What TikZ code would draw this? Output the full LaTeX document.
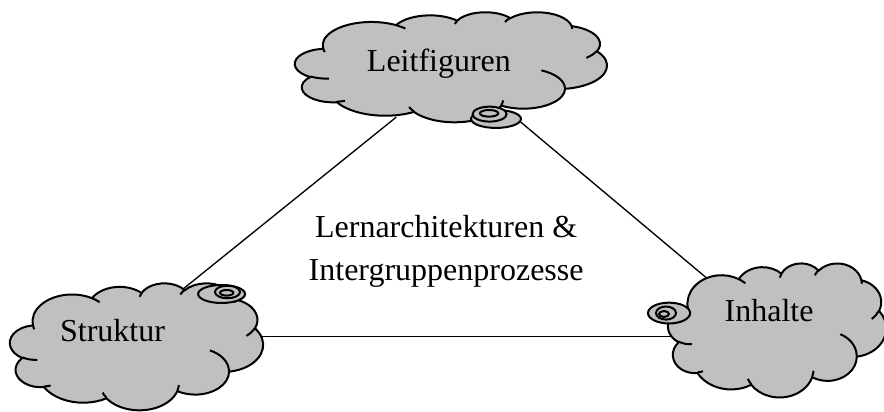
\documentclass[tikz,border=0pt]{standalone}
\usepackage{fontspec}
\setmainfont{Liberation Serif}
\usetikzlibrary{shapes.geometric}

\definecolor{wolkengrau}{RGB}{192,192,192}

\pgfdeclarelayer{background}
\pgfsetlayers{background,main}

% cloud outline of the callout (432 x 432 units), angles as seen on the ellipse
\newcommand\wolkenpfad{}
\newcommand\faltenpfad{}
\newcommand\wolkenbogen[4]{%
  \pgfmathsetmacro\wbs{atan2((#1)*sin(#3),(#2)*cos(#3))}%
  \pgfmathsetmacro\wbd{Mod(atan2((#1)*sin((#3)+(#4)),(#2)*cos((#3)+(#4)))-\wbs,360)}%
  \xdef\wolkenpfad{\wolkenpfad arc[x radius=#1,y radius=#2,start angle=\wbs,delta angle=\wbd]}}
\newcommand\faltenbogen[6]{%
  \pgfmathsetmacro\wbs{atan2((#3)*sin(#5),(#4)*cos(#5))}%
  \pgfmathsetmacro\wbd{Mod(atan2((#3)*sin((#5)+(#6)),(#4)*cos((#5)+(#6)))-\wbs,360)}%
  \xdef\faltenpfad{\faltenpfad (#1,#2) arc[x radius=#3,y radius=#4,start angle=\wbs,delta angle=\wbd]}}

\wolkenbogen{67.53}{91.90}{-190.4875}{123.7805}
\wolkenbogen{53.33}{72.67}{-144.1024}{89.9452}
\wolkenbogen{43.65}{59.45}{-145.8079}{99.7230}
\wolkenbogen{48.57}{65.95}{-130.9861}{117.2417}
\wolkenbogen{53.33}{72.73}{-78.7089}{109.0269}
\wolkenbogen{67.75}{92.20}{-46.2673}{130.2690}
\wolkenbogen{57.85}{78.67}{0.6250}{114.0333}
\wolkenbogen{67.52}{92.15}{22.4516}{115.1726}
\wolkenbogen{77.20}{105.43}{66.2426}{75.7110}
\wolkenbogen{43.60}{59.18}{-274.9421}{146.7356}
\wolkenbogen{43.45}{59.45}{-246.8285}{152.5189}

\faltenbogen{46.93}{261.77}{43.45}{59.45}{86.7420}{26.4295}
\faltenbogen{69.28}{348.99}{43.60}{59.18}{73.6105}{11.4475}
\faltenbogen{164.78}{390.90}{67.52}{92.15}{137.6242}{14.0811}
\faltenbogen{288.27}{347.51}{67.52}{92.15}{6.4533}{15.9984}
\faltenbogen{341.29}{229.54}{57.85}{78.67}{-70.2924}{70.9174}
\faltenbogen{417.98}{153.54}{53.33}{72.73}{30.3180}{27.7515}
\faltenbogen{383.24}{54.26}{48.57}{65.95}{-13.7443}{14.8589}
\faltenbogen{290.78}{39.52}{48.57}{65.95}{-149.1815}{18.1954}
\faltenbogen{221.41}{47.20}{43.65}{59.45}{-163.4943}{17.6864}
\faltenbogen{140.00}{51.92}{67.53}{91.90}{-66.7070}{12.3194}
\faltenbogen{41.27}{157.89}{67.53}{91.90}{157.6544}{11.8582}

\tikzset{
  wolkenfeld/.style={rectangle, inner sep=0pt, outer sep=0pt},
  wolkenrand/.style={draw, fill=wolkengrau, line width=0.75pt, line join=round},
  falte/.style={draw, line width=0.75pt},
  blase/.style={ellipse, draw, fill=wolkengrau, line width=0.75pt, inner sep=0pt},
  verbindung/.style={line width=0.5pt}
}

\begin{document}
\begin{tikzpicture}
\fontsize{12}{16.25}\selectfont
\useasboundingbox (0,0) rectangle (331.5pt,154.5pt);

  % cloud areas
  \node[wolkenfeld, minimum width=117pt, minimum height=41.25pt] (leit)  at (169.1pt,129.4pt) {};
  \node[wolkenfeld, minimum width=94.9pt, minimum height=47.6pt] (struk) at (51.2pt,24.6pt) {};
  \node[wolkenfeld, minimum width=81.75pt, minimum height=50.25pt] (inh) at (291.4pt,30.75pt) {};

  % clouds
  \begin{scope}[shift={(leit.north west)}, x=117pt/432, y=-41.25pt/432]
    \path[wolkenrand] (39,143.7) \wolkenpfad -- cycle;
    \path[falte] \faltenpfad;
  \end{scope}
  \begin{scope}[shift={(struk.north west)}, x=94.9pt/432, y=-47.6pt/432]
    \path[wolkenrand] (39,143.7) \wolkenpfad -- cycle;
    \path[falte] \faltenpfad;
  \end{scope}
  \begin{scope}[shift={(inh.north west)}, x=81.75pt/432, y=-50.25pt/432]
    \path[wolkenrand] (39,143.7) \wolkenpfad -- cycle;
    \path[falte] \faltenpfad;
  \end{scope}

  % bubbles of the callouts
  \node[blase, minimum width=18.75pt, minimum height=6.75pt] (leitb1) at (186pt,109.9pt) {};
  \node[blase, minimum width=12.75pt, minimum height=5.6pt]  (leitb2) at (183.6pt,111.7pt) {};
  \node[blase, minimum width=6.9pt,   minimum height=2.5pt]  (leitb3) at (183.4pt,112pt) {};

  \node[blase, minimum width=17.6pt, minimum height=6.75pt] (strukb1) at (83.1pt,44.25pt) {};
  \node[blase, minimum width=9.4pt,  minimum height=4.7pt]  (strukb2) at (85.3pt,45pt) {};
  \node[blase, minimum width=5pt,    minimum height=2.1pt]  (strukb3) at (85pt,44.7pt) {};

  \node[blase, minimum width=15.8pt, minimum height=7.8pt] (inhb1) at (250.9pt,37.1pt) {};
  \node[blase, minimum width=7.5pt,  minimum height=4.9pt] (inhb2) at (249.75pt,37.1pt) {};
  \node[blase, minimum width=3.75pt, minimum height=2.2pt] (inhb3) at (249pt,36.75pt) {};

  % labels
  \node[anchor=base] (leittext)  at (164.6pt,127.5pt) {Leitfiguren};
  \node[anchor=base] (struktext) at (42.2pt,26.4pt)   {Struktur};
  \node[anchor=base] (inhtext)   at (288.4pt,33.9pt)  {Inhalte};
  \node[align=center] (mitte) at (167.3pt,60.2pt)
       {Lernarchitekturen \&\\Intergruppenprozesse};

  % connections, behind the clouds
  \begin{pgfonlayer}{background}
  \draw[verbindung] ([xshift=-20.5pt,yshift=1.8pt]leit.south) -- ([xshift=17pt,yshift=-2.65pt]struk.north);
  \draw[verbindung] ([xshift=24.9pt,yshift=1pt]leit.south) -- ([xshift=-25.5pt,yshift=-6.4pt]inh.north);
  \draw[verbindung] ([xshift=-3pt,yshift=3.7pt]struk.east) -- ([xshift=3pt,yshift=-2.45pt]inh.west);
  \end{pgfonlayer}

\end{tikzpicture}
\end{document}
